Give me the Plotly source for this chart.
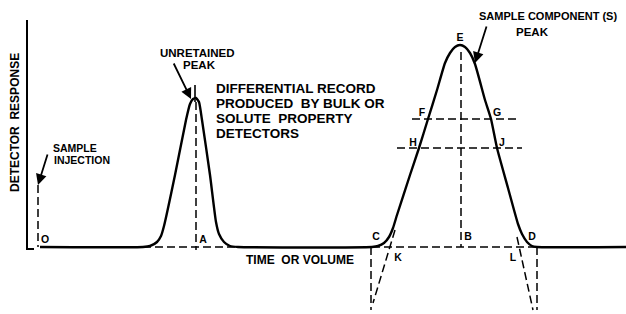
import plotly.graph_objects as go

# Chromatogram trace (time units ~ horizontal position, response above baseline)
time_pts = [40, 143, 150, 157, 161, 164, 175, 186, 190, 193, 196, 199, 202, 210, 216, 219, 224, 230, 238,
            372, 378, 384, 389, 393, 397, 410, 419, 428, 437, 445, 450, 455, 460, 465, 470, 475, 485, 491,
            497, 508, 518, 522, 527, 532, 537, 626]
response = [0, 0, 1, 5, 11, 21, 72, 127, 143, 148, 149, 145, 127, 72, 25, 13, 5, 1, 0,
            0, 1, 4, 10, 19, 32, 72, 99, 128, 157, 184, 194, 200, 202, 200, 194, 183, 147, 128,
            99, 59, 23, 13, 5, 1, 0, 0]

# Construction lines
axis_x, axis_y = [27, 27, 34], [227, -2, -2]
inject_x, inject_y = [38, 38], [62, 0]
unret_tick_x, unret_tick_y = [195, 195], [162, 145]
a_x, a_y = [196, 196], [145, -3]
base1_x, base1_y = [143, 238], [0, 0]
base2_x, base2_y = [372, 537], [0, 0]
fg_x, fg_y = [412, 517], [128, 128]
hj_x, hj_y = [397, 522], [99, 99]
b_x, b_y = [461, 461], [195, 0]
k_x, k_y = [395, 373], [17, -56]
cv_x, cv_y = [371, 371], [0, -63]
l_x, l_y = [517, 533], [10, -63]
dv_x, dv_y = [537, 537], [0, -63]

# Point labels
pt_labels = ["O", "A", "C", "K", "B", "L", "D", "E", "F", "G", "H", "J"]
pt_x = [45, 203, 376, 398, 468, 513, 532, 460, 422, 497, 413, 502]
pt_y = [7, 7, 10, -11, 10, -11, 10, 209, 134, 134, 104, 104]

desc_lines = ["DIFFERENTIAL RECORD", "PRODUCED  BY BULK OR", "SOLUTE  PROPERTY", "DETECTORS"]
desc_y = [159, 144, 129, 114]

FONT = "Liberation Sans"
fig = go.Figure()

fig.add_trace(go.Scatter(x=time_pts, y=response, mode="lines",
                         line=dict(color="black", width=2.4, shape="spline", smoothing=0.5),
                         hoverinfo="skip"))
fig.add_trace(go.Scatter(x=axis_x, y=axis_y, mode="lines", line=dict(color="black", width=2)))
fig.add_trace(go.Scatter(x=unret_tick_x, y=unret_tick_y, mode="lines", line=dict(color="black", width=1.6)))

dashed = [(inject_x, inject_y), (a_x, a_y), (base1_x, base1_y), (base2_x, base2_y), (fg_x, fg_y),
          (hj_x, hj_y), (b_x, b_y), (k_x, k_y), (cv_x, cv_y), (l_x, l_y), (dv_x, dv_y)]
for dx, dy in dashed:
    fig.add_trace(go.Scatter(x=dx, y=dy, mode="lines",
                             line=dict(color="black", width=1.5, dash="8px,4px")))

fig.add_trace(go.Scatter(x=pt_x, y=pt_y, mode="text", text=pt_labels,
                         textfont=dict(family=FONT, size=10.5, color="black"),
                         texttemplate="<b>%{text}</b>"))

def txt(x, y, s, size, angle=0, xanchor="center"):
    fig.add_annotation(x=x, y=y, text="<b>" + s + "</b>", showarrow=False, textangle=angle,
                       font=dict(family=FONT, size=size, color="black"), xanchor=xanchor,
                       xref="x", yref="y")

def arrow(x0, y0, x1, y1):
    fig.add_annotation(x=x1, y=y1, ax=x0, ay=y0, xref="x", yref="y", axref="x", ayref="y",
                       text="", showarrow=True, arrowhead=2, arrowsize=1.2, arrowwidth=1.8,
                       arrowcolor="black")

txt(15, 124, "DETECTOR  RESPONSE", 12, angle=-90)
txt(75, 99, "SAMPLE", 10.5)
txt(82, 87, "INJECTION", 10.5)
txt(197, 194, "UNRETAINED", 11.5)
txt(199, 182, "PEAK", 11.5)
for s, yy in zip(desc_lines, desc_y):
    txt(214, yy, s, 13.5, xanchor="left")
txt(300, -13, "TIME  OR VOLUME", 12)
txt(548, 231, "SAMPLE COMPONENT (S)", 11)
txt(532, 215, "PEAK", 11.5)

arrow(48, 94, 38, 62)
arrow(173, 185, 191, 148)
arrow(487, 222, 475, 184)

fig.update_layout(width=626, height=314, margin=dict(l=0, r=0, t=0, b=0),
                  paper_bgcolor="white", plot_bgcolor="white", showlegend=False,
                  xaxis=dict(range=[0, 626], visible=False, fixedrange=True),
                  yaxis=dict(range=[-67, 247], visible=False, fixedrange=True))

fig.write_html("out.html", config={"displayModeBar": False},
               post_script="document.body.style.margin='0';document.body.style.overflow='hidden';")
